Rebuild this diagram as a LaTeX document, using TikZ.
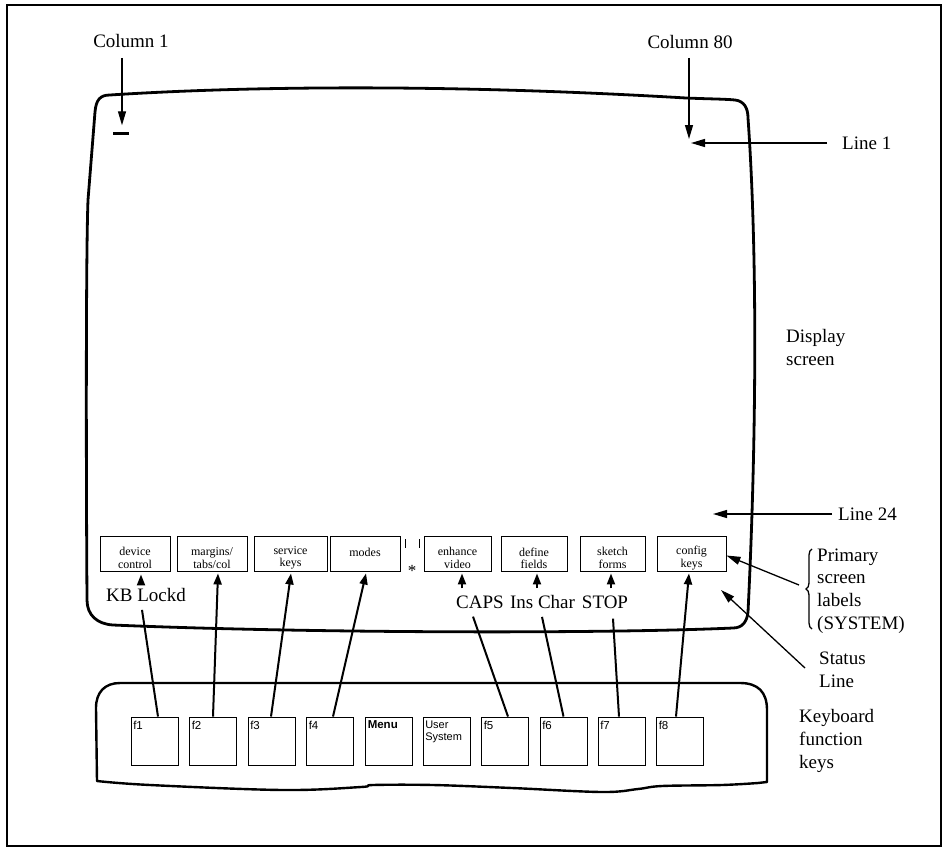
\documentclass[tikz,border=0pt]{standalone}
\usepackage{fontspec}
\setmainfont{Liberation Serif}
\newfontfamily\keyfont{Liberation Sans}
\usetikzlibrary{arrows.meta,decorations.pathreplacing,calc}
\begin{document}
\begin{tikzpicture}[x=1pt,y=-1pt,
  lab/.style={inner sep=0pt, font=\fontsize{19}{23}\selectfont},
  scrlbl/.style={draw, line width=0.9pt, minimum width=#1, minimum height=35, inner sep=0pt},
  boxtext/.style={inner sep=0pt, align=center, font=\fontsize{12}{12.3}\selectfont},
  fkey/.style={draw, line width=0.9pt, minimum width=47, minimum height=48, inner sep=0pt},
  klab/.style={inner sep=0pt, anchor=north west, align=left, font=\keyfont\fontsize{11.5}{12}\selectfont},
  bigarr/.style={line width=1.3pt, -{Triangle[length=14pt,width=8pt]}},
  keyarr/.style={line width=2pt, -{Triangle[length=11pt,width=8pt]}},
  keyline/.style={line width=2pt},
  outline/.style={line width=2.8pt, line join=round},
]
\useasboundingbox (0,0) rectangle (944,848);
% frame
\draw[line width=1.3pt] (7,5) rectangle (941,846);

% display screen outline
\draw[outline] (95,112) .. controls (96,100) and (100,95) .. (110,95)
  .. controls (250,86) and (450,84) .. (686,98)
  .. controls (710,99) and (725,99) .. (735,100)
  .. controls (744,101) and (748,108) .. (748,118)
  .. controls (758,260) and (756,450) .. (748,612)
  .. controls (747,622) and (742,628) .. (733,628)
  .. controls (600,634) and (300,633) .. (113,625)
  .. controls (97,624) and (87,615) .. (87,600)
  .. controls (86,450) and (86,250) .. (88,200)
  -- cycle;

% keyboard outline
\draw[line width=2.4pt, line join=round] (120,683) -- (740,683)
  .. controls (758,683) and (767,692) .. (767,710) -- (767,782)
  -- plot[smooth, tension=0.6] coordinates {(758,783) (722,785) (662,786) (638,789) (602,792) (512,788) (433,785) (373,785) (361,787) (283,790) (150,785) (97,781)}
  -- (96,708) .. controls (96,692) and (105,683) .. (120,683) -- cycle;

% top labels
\node[lab] (col1) at (131,41) {Column 1};
\node[lab] (col80) at (690,42) {Column 80};
\node[lab, anchor=west] (line1) at (842,143) {Line 1};
\node[fill, minimum width=16, minimum height=3, inner sep=0pt] (cur) at (121,133) {};
\coordinate (c80) at (689,139);
\coordinate (l1end) at (691,143);
\draw[bigarr] (122,58) -- ([xshift=1pt,yshift=6pt]cur.north);
\draw[bigarr] (689,58) -- (c80);
\draw[bigarr] ([xshift=-15pt]line1.west) -- (l1end);

% right labels
\node[lab, anchor=west, align=left] (disp) at (786,347.5) {Display\\screen};
\node[lab, anchor=west] (line24) at (838,514) {Line 24};
\coordinate (l24end) at (713,514);
\draw[bigarr] ([xshift=-6pt]line24.west) -- (l24end);

\node[lab, anchor=west, align=left, font=\fontsize{19}{22.7}\selectfont] (prim) at (817,591) {Primary\\screen\\labels\\(SYSTEM)};
\draw[line width=1.3pt, decorate, decoration={brace, amplitude=6pt}] (812,629) -- (812,549);
\node[lab, anchor=west, align=left] (status) at (819,670) {Status\\Line};
\node[lab, anchor=west, align=left] (kfk) at (799,741) {Keyboard\\function\\keys};

% screen label boxes
\node[scrlbl=70] (lb1) at (135,553.5) {};
\node[scrlbl=70] (lb2) at (212,553.5) {};
\node[scrlbl=73] (lb3) at (290.5,553.5) {};
\node[scrlbl=70] (lb4) at (365,553.5) {};
\node[scrlbl=67] (lb5) at (457.5,553.5) {};
\node[scrlbl=66] (lb6) at (534,553.5) {};
\node[scrlbl=65] (lb7) at (612.5,553.5) {};
\node[scrlbl=69] (lb8) at (691.5,553.5) {};
\node[boxtext] (tx1) at ([yshift=-4.5pt]lb1.center) {device\\control};
\node[boxtext] (tx2) at ([yshift=-4.5pt]lb2.center) {margins/\\tabs/col};
\node[boxtext] (tx3) at ([yshift=-4.5pt]lb3.center) {service\\keys};
\node[boxtext] (tx4) at ([yshift=1.5pt]lb4.center) {modes};
\node[boxtext] (tx5) at ([yshift=-4.5pt]lb5.center) {enhance\\video};
\node[boxtext] (tx6) at ([yshift=-4.5pt]lb6.center) {define\\fields};
\node[boxtext] (tx7) at ([yshift=-4.5pt]lb7.center) {sketch\\forms};
\node[boxtext] (tx8) at ([yshift=-4.5pt]lb8.center) {config\\keys};
\draw[line width=0.8pt] (405,539) -- (405,548);
\draw[line width=0.8pt] (419,539) -- (419,548);
\node[inner sep=0pt, font=\fontsize{17}{17}\selectfont] (star) at (412,571) {*};

% primary / status arrows
\coordinate (stl) at (721,590);
\draw[bigarr] ([xshift=-18pt,yshift=6pt]prim.west) -- ([yshift=-2pt]lb8.east);
\draw[bigarr] ([xshift=-14pt,yshift=2pt]status.west) -- (stl);

% status line texts
\node[lab] (kb) at (146,595) {KB Lockd};
\node[lab] (caps) at (480,602) {CAPS};
\node[lab] (ins) at (542.5,602) {Ins Char};
\node[lab] (stop) at (605,602) {STOP};

% keys
\node[fkey] (k1) at (154.5,741) {};
\node[fkey] (k2) at (213,741) {};
\node[fkey] (k3) at (271.5,741) {};
\node[fkey] (k4) at (330,741) {};
\node[fkey] (km) at (388.5,741) {};
\node[fkey] (ku) at (446.5,741) {};
\node[fkey] (k5) at (505,741) {};
\node[fkey] (k6) at (563.5,741) {};
\node[fkey] (k7) at (621.5,741) {};
\node[fkey] (k8) at (680,741) {};
\node[klab] (t1) at ([xshift=2.5pt,yshift=-4pt]k1.north west) {f1};
\node[klab] (t2) at ([xshift=2.5pt,yshift=-4pt]k2.north west) {f2};
\node[klab] (t3) at ([xshift=2.5pt,yshift=-4pt]k3.north west) {f3};
\node[klab] (t4) at ([xshift=2.5pt,yshift=-4pt]k4.north west) {f4};
\node[klab, font=\keyfont\bfseries\fontsize{11.5}{12}\selectfont] (tm) at ([xshift=3pt,yshift=-4pt]km.north west) {Menu};
\node[klab, font=\keyfont\fontsize{11}{12}\selectfont] (tu) at ([xshift=2.5pt,yshift=-4pt]ku.north west) {User\\System};
\node[klab] (t5) at ([xshift=2.5pt,yshift=-4pt]k5.north west) {f5};
\node[klab] (t6) at ([xshift=2.5pt,yshift=-4pt]k6.north west) {f6};
\node[klab] (t7) at ([xshift=2.5pt,yshift=-4pt]k7.north west) {f7};
\node[klab] (t8) at ([xshift=2.5pt,yshift=-4pt]k8.north west) {f8};

% connectors: keys to screen labels
\draw[keyarr] ([xshift=-5pt,yshift=9pt]kb.north) -- ([xshift=6pt,yshift=-3pt]lb1.south);
\draw[keyline] ([xshift=3.5pt]k1.north) -- ([xshift=-4pt,yshift=-8pt]kb.south);
\draw[keyarr] (k2.north) -- ([xshift=6pt,yshift=-2pt]lb2.south);
\draw[keyarr] ([xshift=-0.5pt]k3.north) -- ([xshift=0.5pt,yshift=-2pt]lb3.south);
\draw[keyarr] ([xshift=3pt]k4.north) -- ([xshift=1pt,yshift=-2pt]lb4.south);
\draw[keyarr] ([xshift=-18pt,yshift=7pt]caps.north) -- ([xshift=4.5pt,yshift=-2pt]lb5.south);
\draw[keyline] ([xshift=3pt]k5.north) -- ([xshift=-7pt,yshift=-8pt]caps.south);
\draw[keyarr] ([xshift=-5.5pt,yshift=7pt]ins.north) -- ([xshift=3pt,yshift=-2pt]lb6.south);
\draw[keyline] (k6.north) -- ([xshift=-0.5pt,yshift=-8pt]ins.south);
\draw[keyarr] ([xshift=6pt,yshift=7pt]stop.north) -- ([xshift=-1.5pt,yshift=-2pt]lb7.south);
\draw[keyline] ([xshift=-2.5pt]k7.north) -- ([xshift=8pt,yshift=-10pt]stop.south);
\draw[keyarr] ([xshift=-4pt]k8.north) -- ([xshift=-2.5pt,yshift=-2pt]lb8.south);
\end{tikzpicture}
\end{document}
